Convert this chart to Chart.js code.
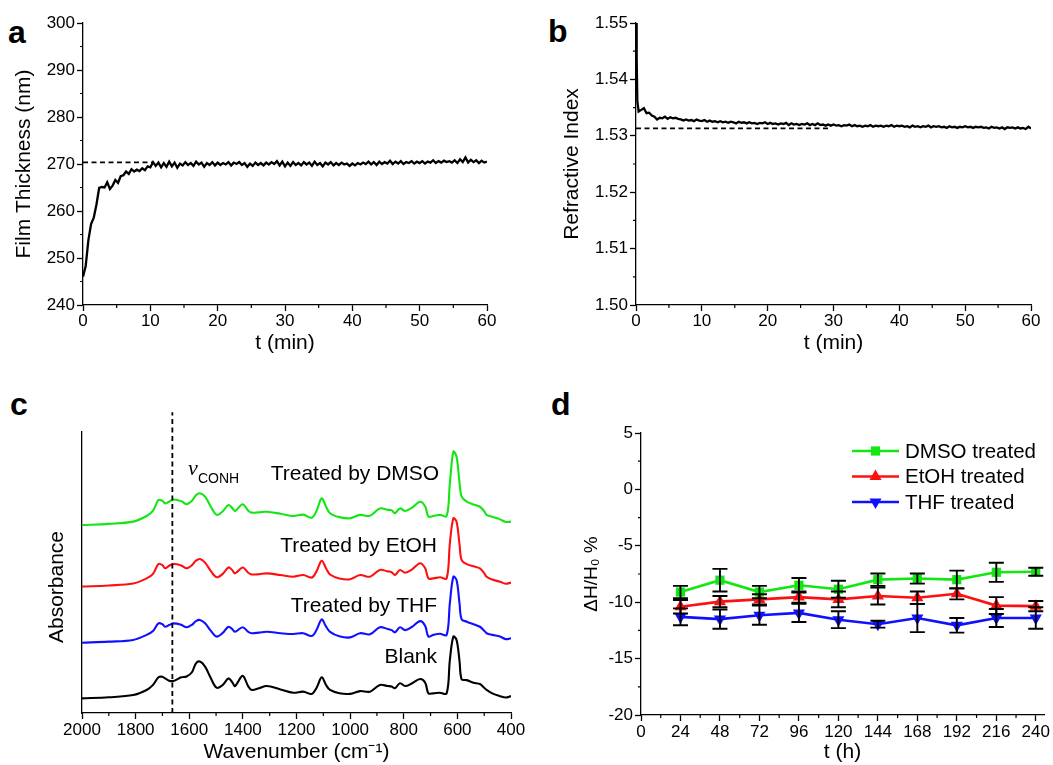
<!DOCTYPE html>
<html>
<head>
<meta charset="utf-8">
<script src="https://cdn.jsdelivr.net/npm/chart.js@4.4.0/dist/chart.umd.min.js"></script>
<style>
  body { margin: 0; background: #fff; width: 1053px; height: 765px; position: relative; overflow: hidden; }
  canvas { position: absolute; }
  .tag { position: absolute; font: bold 32px "Liberation Sans", Arial, sans-serif; line-height: 32px; color: #000; }
</style>
</head>
<body>
<div class="tag" style="left:8px;top:16px">a</div>
<div class="tag" style="left:548px;top:15px">b</div>
<div class="tag" style="left:10px;top:388px">c</div>
<div class="tag" style="left:551px;top:388px">d</div>
<canvas id="chartA" width="520" height="380" style="left:0;top:0"></canvas>
<canvas id="chartB" width="533" height="380" style="left:520px;top:0"></canvas>
<canvas id="chartC" width="540" height="385" style="left:0;top:380px"></canvas>
<canvas id="chartD" width="523" height="385" style="left:530px;top:380px"></canvas>
<script>
// ---------- panel a: film thickness (nm) vs t (min) ----------
const timeA = [0,0.4,0.8,1.2,1.6,2,2.4,2.8,3.2,3.6,
  4,4.4,4.8,5.2,5.6,6,6.4,6.8,7.2,7.6,
  8,8.4,8.8,9.2,9.6,10,10.4,10.8,11.2,11.6,
  12,12.4,12.8,13.2,13.6,14,14.4,14.8,15.2,15.6,
  16,16.4,16.8,17.2,17.6,18,18.4,18.8,19.2,19.6,
  20,20.4,20.8,21.2,21.6,22,22.4,22.8,23.2,23.6,
  24,24.4,24.8,25.2,25.6,26,26.4,26.8,27.2,27.6,
  28,28.4,28.8,29.2,29.6,30,30.4,30.8,31.2,31.6,
  32,32.4,32.8,33.2,33.6,34,34.4,34.8,35.2,35.6,
  36,36.4,36.8,37.2,37.6,38,38.4,38.8,39.2,39.6,
  40,40.4,40.8,41.2,41.6,42,42.4,42.8,43.2,43.6,
  44,44.4,44.8,45.2,45.6,46,46.4,46.8,47.2,47.6,
  48,48.4,48.8,49.2,49.6,50,50.4,50.8,51.2,51.6,
  52,52.4,52.8,53.2,53.6,54,54.4,54.8,55.2,55.6,
  56,56.4,56.8,57.2,57.6,58,58.4,58.8,59.2,59.6,
  60];
const thickness = [246.0,248.3,253.8,257.2,258.6,261.4,264.9,265.1,265.0,266.1,
  264.7,265.4,266.6,266.0,267.4,267.6,268.4,267.9,268.9,268.4,
  268.8,268.5,269.1,268.7,269.5,269.3,270.4,269.6,270.3,269.3,
  270.2,269.4,270.5,269.5,270.3,269.2,270.1,269.7,270.4,269.8,
  270.2,269.6,270.5,269.9,270.3,269.4,270.2,269.8,270.4,269.7,
  270.3,269.8,270.2,269.9,270.4,269.7,270.3,270.0,270.4,269.8,
  270.2,269.4,270.1,269.6,270.3,269.8,270.2,269.7,270.3,269.9,
  270.4,270.0,270.6,269.7,270.5,269.5,270.3,269.6,270.4,269.8,
  270.2,269.7,270.4,269.9,270.3,269.6,270.5,269.8,270.2,269.5,
  270.3,269.9,270.4,269.7,270.2,269.8,270.3,269.9,270.1,269.6,
  270.1,269.7,270.2,269.9,270.3,270.0,270.5,269.9,270.4,269.8,
  270.5,270.0,270.4,270.1,270.7,270.0,270.5,270.1,270.6,270.0,
  270.4,270.2,270.6,270.1,270.5,270.2,270.6,270.1,270.5,270.3,
  270.8,270.2,270.6,270.3,270.7,270.4,270.6,270.3,270.8,270.2,
  271.0,270.4,271.4,270.3,270.9,270.4,270.8,270.2,270.7,270.3,
  270.5];
const thicknessPlateau = 270.35;
const thicknessPlateauEnd = 10.3;
const ticksAX = [0,10,20,30,40,50,60];
const minorAX = [5,15,25,35,45,55];
const ticksAY = [240,250,260,270,280,290,300];
const minorAY = [245,255,265,275,285,295];

// ---------- panel b: refractive index vs t (min) ----------
const timeB = [0,0.1,0.2,0.4,0.8,1.2,1.6,2,2.4,2.8,3.2,3.6,
  4,4.4,4.8,5.2,5.6,6,6.4,6.8,7.2,7.6,
  8,8.4,8.8,9.2,9.6,10,10.4,10.8,11.2,11.6,
  12,12.4,12.8,13.2,13.6,14,14.4,14.8,15.2,15.6,
  16,16.4,16.8,17.2,17.6,18,18.4,18.8,19.2,19.6,
  20,20.4,20.8,21.2,21.6,22,22.4,22.8,23.2,23.6,
  24,24.4,24.8,25.2,25.6,26,26.4,26.8,27.2,27.6,
  28,28.4,28.8,29.2,29.6,30,30.4,30.8,31.2,31.6,
  32,32.4,32.8,33.2,33.6,34,34.4,34.8,35.2,35.6,
  36,36.4,36.8,37.2,37.6,38,38.4,38.8,39.2,39.6,
  40,40.4,40.8,41.2,41.6,42,42.4,42.8,43.2,43.6,
  44,44.4,44.8,45.2,45.6,46,46.4,46.8,47.2,47.6,
  48,48.4,48.8,49.2,49.6,50,50.4,50.8,51.2,51.6,
  52,52.4,52.8,53.2,53.6,54,54.4,54.8,55.2,55.6,
  56,56.4,56.8,57.2,57.6,58,58.4,58.8,59.2,59.6,
  60];
const refIndex = [1.5500,1.5440,1.5362,1.5343,1.5346,1.5349,1.5340,1.5341,1.5336,1.5334,1.5329,1.5332,
  1.5331,1.5334,1.5330,1.5333,1.5331,1.5332,1.5330,1.5329,1.5327,1.5329,
  1.5327,1.5328,1.5326,1.5329,1.5327,1.5326,1.5328,1.5325,1.5327,1.5325,
  1.5326,1.5324,1.5326,1.5324,1.5325,1.5323,1.5325,1.5324,1.5322,1.5325,
  1.5323,1.5324,1.5322,1.5324,1.5322,1.5323,1.5321,1.5323,1.5322,1.5324,
  1.5321,1.5323,1.5321,1.5322,1.5320,1.5322,1.5321,1.5323,1.5319,1.5322,
  1.5320,1.5321,1.5319,1.5321,1.5320,1.5322,1.5319,1.5321,1.5319,1.5322,
  1.5319,1.5320,1.5318,1.5320,1.5318,1.5320,1.5318,1.5319,1.5317,1.5319,
  1.5318,1.5320,1.5317,1.5319,1.5317,1.5318,1.5316,1.5318,1.5317,1.5319,
  1.5316,1.5318,1.5317,1.5318,1.5316,1.5318,1.5317,1.5319,1.5316,1.5318,
  1.5317,1.5318,1.5316,1.5317,1.5315,1.5318,1.5316,1.5317,1.5315,1.5317,
  1.5316,1.5318,1.5315,1.5317,1.5316,1.5317,1.5315,1.5316,1.5314,1.5317,
  1.5315,1.5316,1.5314,1.5316,1.5315,1.5317,1.5315,1.5316,1.5314,1.5316,
  1.5315,1.5316,1.5314,1.5315,1.5313,1.5316,1.5314,1.5315,1.5313,1.5315,
  1.5312,1.5315,1.5314,1.5315,1.5313,1.5315,1.5313,1.5314,1.5312,1.5316,
  1.5313];
const refIndexPlateau = 1.5313;
const refIndexPlateauEnd = 29.5;
const ticksBX = [0,10,20,30,40,50,60];
const minorBX = [5,15,25,35,45,55];
const ticksBY = [1.50,1.51,1.52,1.53,1.54,1.55];
const minorBY = [1.505,1.515,1.525,1.535,1.545];

// ---------- panel c: IR spectra (absorbance, offset, a.u.) ----------
const wavenumber = [2000,1900,1809,1759,1735,1715,1700,1690,1675,1659,1630,1610,1590,1575,1560,1541,1520,1498,1475,1454,
  1440,1429,1401,1380,1367,1340,1311,1260,1212,1175,1143,1125,1106,1090,1075,1040,1000,963,926,889,
  860,845,833,814,795,770,739,720,708,690,665,640,628,615,603,592,584,565,540,516,500,491,470,441,420,400];
const absDMSO = [66.9,67.3,68.1,70.1,72.0,75.8,75.5,74.6,75.2,76.0,75.4,74.3,75.5,77.5,78.2,77.0,73.5,70.5,71.8,74.0,
  73.0,71.9,74.3,72.0,71.3,71.4,71.6,70.9,70.1,70.6,69.5,72.0,76.4,73.5,71.1,69.7,69.3,70.5,70.2,72.8,
  72.3,72.2,71.1,72.8,71.9,73.0,75.2,73.5,69.9,70.1,70.5,70.1,81.7,93.0,91.2,82.0,77.0,75.2,74.2,73.4,71.8,70.5,69.8,68.9,68.0,68.1];
const absEtOH = [45.0,45.4,46.1,47.9,49.5,53.0,52.6,51.5,52.4,53.0,52.5,51.5,52.6,54.2,54.8,53.5,50.6,48.3,49.5,51.8,
  50.9,49.7,51.8,49.9,49.3,49.4,49.7,49.1,48.5,49.1,48.2,50.5,54.2,51.5,49.3,47.9,47.6,49.1,48.5,50.9,
  50.4,50.1,49.1,50.9,49.9,51.0,53.3,51.5,47.9,47.9,48.3,47.9,60.4,69.3,68.1,60.0,54.4,53.0,52.2,51.5,49.8,48.5,47.5,46.7,46.0,46.4];
const absTHF = [25.0,25.4,26.0,27.8,29.2,31.9,31.6,30.7,31.3,31.9,31.4,30.5,31.4,32.7,33.1,31.9,29.3,27.2,28.5,30.7,
  29.9,28.9,30.5,28.9,28.4,28.6,28.9,28.4,28.1,28.4,27.4,29.6,33.3,30.8,28.9,27.3,26.9,28.4,28.0,30.5,
  29.9,29.5,28.7,30.5,29.5,30.6,32.7,31.0,27.2,27.8,28.2,27.8,39.1,48.5,47.3,39.0,33.3,32.5,31.6,30.7,29.3,28.4,27.8,27.2,26.3,26.6];
const absBlank = [5.2,5.6,6.4,8.2,10.0,12.7,12.9,12.3,11.5,11.4,12.7,13.0,14.5,17.7,18.3,16.5,12.5,9.0,10.0,12.3,
  11.0,9.6,13.2,9.5,8.2,8.8,9.6,8.4,7.2,7.6,6.8,9.0,12.7,10.0,8.2,7.0,6.8,7.8,7.6,10.0,
  9.6,9.4,8.8,10.6,9.6,10.5,12.1,10.8,7.0,7.0,7.2,7.0,18.9,27.2,26.0,18.5,12.0,11.7,10.8,10.3,9.0,8.2,7.0,6.0,5.5,6.0];
const spectraNames = ['Treated by DMSO', 'Treated by EtOH', 'Treated by THF', 'Blank'];
const conhPosition = 1663;
const ticksCX = [2000,1800,1600,1400,1200,1000,800,600,400];
const minorCX = [1900,1700,1500,1300,1100,900,700,500];

// ---------- panel d: thickness change vs t (h) ----------
const hours = [24,48,72,96,120,144,168,192,216,240];
const dmso = [-9.1,-8.05,-9.1,-8.5,-8.85,-8.0,-7.9,-8.0,-7.35,-7.3];
const dmsoErr = [0.55,1.0,0.55,0.65,0.75,0.55,0.45,0.8,0.85,0.35];
const etoh = [-10.4,-9.95,-9.75,-9.55,-9.75,-9.45,-9.6,-9.25,-10.3,-10.35];
const etohErr = [0.6,0.5,0.45,0.5,0.7,0.75,0.55,0.5,0.75,0.45];
const thf = [-11.3,-11.5,-11.15,-10.95,-11.55,-11.95,-11.4,-12.05,-11.4,-11.4];
const thfErr = [0.75,0.85,0.85,0.8,0.75,0.3,1.25,0.65,0.8,0.95];
const seriesNames = ['DMSO treated', 'EtOH treated', 'THF treated'];
const ticksDX = [0,24,48,72,96,120,144,168,192,216,240];
const minorDX = [12,36,60,84,108,132,156,180,204,228];
const ticksDY = [-20,-15,-10,-5,0,5];
const minorDY = [-17.5,-12.5,-7.5,-2.5,2.5];

const FONT = '"Liberation Sans", Arial, sans-serif';
const GREEN = '#14e614', RED = '#ff1010', BLUE = '#1010ff';
Chart.defaults.font.family = FONT;
Chart.defaults.color = '#000';

function pts(xs, ys) { return xs.map((x, i) => ({ x: x, y: ys[i] })); }

function xAxis(min, max, tickVals, title, height, padBottom, labelPad, extra) {
  return Object.assign({
    type: 'linear', position: 'bottom', min: min, max: max,
    afterBuildTicks: s => { s.ticks = tickVals.map(v => ({ value: v })); },
    afterFit: s => { s.height = height; },
    grid: { display: true, drawOnChartArea: false, drawTicks: true, tickLength: 6, tickColor: '#000', tickWidth: 1.3 },
    border: { display: true, color: '#000', width: 1.3 },
    ticks: { color: '#000', font: { size: 17 }, padding: labelPad, maxRotation: 0, autoSkip: false, callback: v => String(v) },
    title: { display: true, text: title, color: '#000', font: { size: 21 }, padding: { top: 0, bottom: padBottom } }
  }, extra || {});
}

function yAxis(min, max, tickVals, title, width, padTop, titleSize, fmt) {
  return {
    type: 'linear', position: 'left', min: min, max: max,
    afterBuildTicks: s => { s.ticks = tickVals.map(v => ({ value: v })); },
    afterFit: s => { s.width = width; },
    grid: { display: true, drawOnChartArea: false, drawTicks: true, tickLength: 6, tickColor: '#000', tickWidth: 1.3 },
    border: { display: true, color: '#000', width: 1.3 },
    ticks: { color: '#000', font: { size: 17 }, padding: 2, autoSkip: false, callback: fmt || (v => String(v)) },
    title: { display: true, text: title, color: '#000', font: { size: titleSize }, padding: { top: padTop, bottom: 0 } }
  };
}

function minorTicks(chart, axisId, values, len) {
  const s = chart.scales[axisId], ctx = chart.ctx, a = chart.chartArea;
  ctx.save();
  ctx.strokeStyle = '#000';
  ctx.lineWidth = 1.2;
  ctx.beginPath();
  values.forEach(v => {
    if (s.isHorizontal()) {
      const x = s.getPixelForValue(v);
      ctx.moveTo(x, a.bottom); ctx.lineTo(x, a.bottom + len);
    } else {
      const y = s.getPixelForValue(v);
      ctx.moveTo(a.left, y); ctx.lineTo(a.left - len, y);
    }
  });
  ctx.stroke();
  ctx.restore();
}

function dashedH(chart, yVal, x0, x1) {
  const ctx = chart.ctx, xs = chart.scales.x, ys = chart.scales.y;
  const y = ys.getPixelForValue(yVal);
  ctx.save();
  ctx.strokeStyle = '#000';
  ctx.lineWidth = 1.8;
  ctx.setLineDash([5, 3.5]);
  ctx.beginPath();
  ctx.moveTo(xs.getPixelForValue(x0), y);
  ctx.lineTo(xs.getPixelForValue(x1), y);
  ctx.stroke();
  ctx.restore();
}

const baseOpts = {
  responsive: false, animation: false, devicePixelRatio: 1,
  plugins: { legend: { display: false }, tooltip: { enabled: false } }
};

// ---------- chart a ----------
new Chart(document.getElementById('chartA'), {
  type: 'scatter',
  data: { datasets: [{ data: pts(timeA, thickness), showLine: true, borderColor: '#000', borderWidth: 2.3, pointRadius: 0, tension: 0 }] },
  options: Object.assign({}, baseOpts, {
    layout: { padding: { left: 0, top: 23, right: 33, bottom: 0 } },
    scales: {
      x: xAxis(0, 60, ticksAX, 't (min)', 75, 24, 0),
      y: yAxis(240, 300, ticksAY, 'Film Thickness (nm)', 83, 12, 21)
    }
  }),
  plugins: [{
    id: 'decorA',
    afterDraw(chart) {
      minorTicks(chart, 'x', minorAX, 3);
      minorTicks(chart, 'y', minorAY, 3);
      dashedH(chart, thicknessPlateau, 0, thicknessPlateauEnd);
    }
  }]
});

// ---------- chart b ----------
new Chart(document.getElementById('chartB'), {
  type: 'scatter',
  data: { datasets: [{ data: pts(timeB, refIndex), showLine: true, borderColor: '#000', borderWidth: 2.3, pointRadius: 0, tension: 0 }] },
  options: Object.assign({}, baseOpts, {
    layout: { padding: { left: 0, top: 23, right: 22, bottom: 0 } },
    scales: {
      x: xAxis(0, 60, ticksBX, 't (min)', 75, 24, 0),
      y: yAxis(1.50, 1.55, ticksBY, 'Refractive Index', 116, 40, 21, v => v.toFixed(2))
    }
  }),
  plugins: [{
    id: 'decorB',
    afterDraw(chart) {
      minorTicks(chart, 'x', minorBX, 3);
      minorTicks(chart, 'y', minorBY, 3);
      dashedH(chart, refIndexPlateau, 0, refIndexPlateauEnd);
    }
  }]
});

// ---------- chart c ----------
const spectra = [absDMSO, absEtOH, absTHF, absBlank];
const spectraColors = [GREEN, RED, BLUE, '#000'];
new Chart(document.getElementById('chartC'), {
  type: 'scatter',
  data: {
    datasets: spectra.map((s, i) => ({
      label: spectraNames[i], data: pts(wavenumber, s), showLine: true,
      borderColor: spectraColors[i], borderWidth: 2.1, pointRadius: 0, tension: 0.35
    }))
  },
  options: Object.assign({}, baseOpts, {
    layout: { padding: { left: 0, top: 52, right: 29, bottom: 0 } },
    scales: {
      x: xAxis(400, 2000, ticksCX, 'Wavenumber (cm\u207B\u00B9)', 52, 0, 1, { reverse: true }),
      y: {
        type: 'linear', position: 'left', min: 0, max: 100,
        afterFit: s => { s.width = 82; },
        grid: { display: false },
        ticks: { display: false },
        border: { display: true, color: '#000', width: 1.3 },
        title: { display: false }
      }
    }
  }),
  plugins: [{
    id: 'decorC',
    afterDraw(chart) {
      const ctx = chart.ctx, xs = chart.scales.x, ys = chart.scales.y, a = chart.chartArea;
      minorTicks(chart, 'x', minorCX, 3);
      // dashed marker line for the amide band
      const xp = xs.getPixelForValue(conhPosition);
      ctx.save();
      ctx.strokeStyle = '#000';
      ctx.lineWidth = 1.8;
      ctx.setLineDash([5, 3.5]);
      ctx.beginPath();
      ctx.moveTo(xp, a.bottom);
      ctx.lineTo(xp, ys.getPixelForValue(107));
      ctx.stroke();
      ctx.setLineDash([]);
      // curve labels
      ctx.fillStyle = '#000';
      ctx.font = '21px ' + FONT;
      ctx.textAlign = 'right';
      ctx.textBaseline = 'alphabetic';
      const labelPos = [[668, 82.9], [676, 57.3], [676, 35.9], [676, 17.8]];
      spectraNames.forEach((n, i) => {
        ctx.fillText(n, xs.getPixelForValue(labelPos[i][0]), ys.getPixelForValue(labelPos[i][1]));
      });
      // nu CONH
      ctx.textAlign = 'left';
      const nx = xs.getPixelForValue(1605), ny = ys.getPixelForValue(84.7);
      ctx.font = 'italic 22px "Liberation Serif", serif';
      ctx.fillText('\u03BD', nx, ny);
      ctx.font = '14px ' + FONT;
      ctx.fillText('CONH', nx + 10, ny + 8);
      // y axis title
      ctx.translate(57, 207);
      ctx.rotate(-Math.PI / 2);
      ctx.textAlign = 'center';
      ctx.textBaseline = 'middle';
      ctx.font = '21px ' + FONT;
      ctx.fillText('Absorbance', 0, 0);
      ctx.restore();
    }
  }]
});

// ---------- chart d ----------
const dSeries = [dmso, etoh, thf];
const dErrors = [dmsoErr, etohErr, thfErr];
const dColors = [GREEN, RED, BLUE];
const dStyles = ['rect', 'triangle', 'triangle'];
const dRot = [0, 0, 180];
const dRadius = [6.5, 7, 7];

function drawMarker(ctx, style, rot, r, x, y, color) {
  ctx.fillStyle = color;
  ctx.beginPath();
  if (style === 'rect') {
    const h = r * Math.SQRT1_2;
    ctx.rect(x - h, y - h, 2 * h, 2 * h);
  } else {
    let ang = rot * Math.PI / 180;
    for (let k = 0; k < 3; k++) {
      const px = x + Math.sin(ang) * r, py = y - Math.cos(ang) * r;
      if (k === 0) ctx.moveTo(px, py); else ctx.lineTo(px, py);
      ang += 2 * Math.PI / 3;
    }
    ctx.closePath();
  }
  ctx.fill();
}

new Chart(document.getElementById('chartD'), {
  type: 'scatter',
  data: {
    datasets: dSeries.map((s, i) => ({
      label: seriesNames[i], data: pts(hours, s), showLine: true,
      borderColor: dColors[i], backgroundColor: dColors[i], borderWidth: 2.6, tension: 0,
      pointStyle: dStyles[i], pointRotation: dRot[i], pointRadius: dRadius[i],
      pointBorderWidth: 0, errors: dErrors[i]
    }))
  },
  options: Object.assign({}, baseOpts, {
    layout: { padding: { left: 0, top: 53, right: 9, bottom: 0 } },
    scales: {
      x: xAxis(0, 245, ticksDX, 't (h)', 50, 0, 1),
      y: yAxis(-20, 5, ticksDY, '\u0394H/H\u2080 %', 111, 50, 19)
    }
  }),
  plugins: [{
    id: 'decorD',
    afterDatasetsDraw(chart) {
      const ctx = chart.ctx, xs = chart.scales.x, ys = chart.scales.y;
      ctx.save();
      ctx.strokeStyle = '#000';
      ctx.lineWidth = 1.9;
      chart.data.datasets.forEach(ds => {
        ds.data.forEach((p, j) => {
          const x = xs.getPixelForValue(p.x);
          const y1 = ys.getPixelForValue(p.y + ds.errors[j]);
          const y2 = ys.getPixelForValue(p.y - ds.errors[j]);
          ctx.beginPath();
          ctx.moveTo(x, y1); ctx.lineTo(x, y2);
          ctx.moveTo(x - 7.5, y1); ctx.lineTo(x + 7.5, y1);
          ctx.moveTo(x - 7.5, y2); ctx.lineTo(x + 7.5, y2);
          ctx.stroke();
        });
      });
      ctx.restore();
    },
    afterDraw(chart) {
      const ctx = chart.ctx, a = chart.chartArea;
      minorTicks(chart, 'x', minorDX, 3);
      minorTicks(chart, 'y', minorDY, 3);
      // legend, top right inside the plot
      ctx.save();
      ctx.font = '20.5px ' + FONT;
      ctx.textBaseline = 'middle';
      ctx.textAlign = 'left';
      seriesNames.forEach((n, i) => {
        const y = a.top + 18 + i * 25.5;
        const x0 = a.left + 211, x1 = a.left + 258;
        ctx.strokeStyle = dColors[i];
        ctx.lineWidth = 2.6;
        ctx.beginPath(); ctx.moveTo(x0, y); ctx.lineTo(x1, y); ctx.stroke();
        drawMarker(ctx, dStyles[i], dRot[i], dRadius[i], (x0 + x1) / 2, y, dColors[i]);
        ctx.fillStyle = '#000';
        ctx.fillText(n, a.left + 264, y + 1);
      });
      ctx.restore();
    }
  }]
});
</script>
</body>
</html>
